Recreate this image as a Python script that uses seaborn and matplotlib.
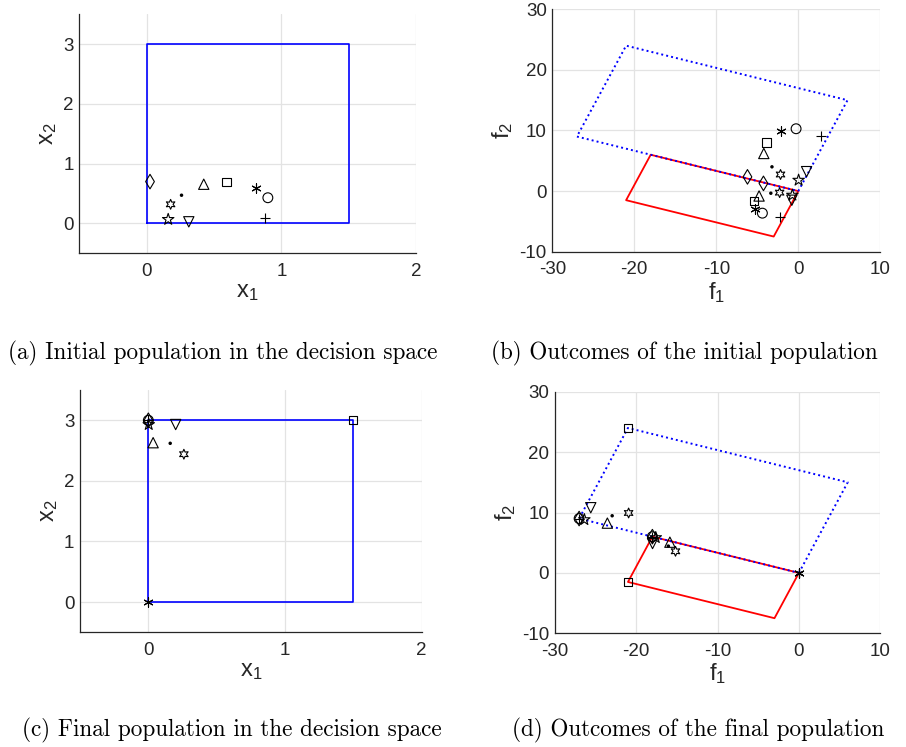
import matplotlib
matplotlib.use("Agg")
import matplotlib.pyplot as plt
from matplotlib.markers import MarkerStyle
import seaborn as sns
import pandas as pd

# ---------------- data ----------------
markers = ["d", (6, 1, 0), "*", ".", "v", "^", "s", (6, 2, 0), "o", "+"]

# initial population (decision space)
x1_init = [0.025, 0.178, 0.160, 0.259, 0.313, 0.424, 0.593, 0.815, 0.900, 0.880]
x2_init = [0.700, 0.320, 0.067, 0.472, 0.027, 0.656, 0.695, 0.600, 0.430, 0.083]
# outcomes of initial population, objective map A (blue) and B (red)
f1A_init = [-6.20, -2.168, 0.037, -3.212, 1.009, -4.208, -3.883, -2.14, -0.27, 2.773]
f2A_init = [2.35, 2.74, 1.801, 4.006, 3.211, 6.208, 8.015, 9.95, 10.29, 9.049]
f1B_init = [-4.25, -2.276, -0.722, -3.35, -0.788, -4.784, -5.356, -5.23, -4.38, -2.258]
f2B_init = [1.275, -0.25, -0.666, -0.351, -1.511, -0.808, -1.575, -2.875, -3.64, -4.234]

# final population (decision space)
x1_fin = [0.0, 0.26, 0.003, 0.16, 0.20, 0.035, 1.5, 0.0, 0.0, 0.0]
x2_fin = [3.0, 2.44, 2.93, 2.62, 2.93, 2.63, 3.0, 0.0, 3.0, 3.0]
f1A_fin = [-27.0, -20.92, -26.358, -22.94, -25.57, -23.53, -21.0, 0.0, -27.0, -27.0]
f2A_fin = [9.0, 9.92, 8.82, 9.46, 10.79, 8.24, 24.0, 0.0, 9.0, 9.0]
f1B_fin = [-18.0, -15.16, -17.586, -16.04, -17.98, -15.85, -21.0, 0.0, -18.0, -18.0]
f2B_fin = [6.0, 3.58, 5.845, 4.44, 4.86, 5.085, -1.5, 0.0, 6.0, 6.0]

# feasible box and its images
box_x1 = [0, 1.5, 1.5, 0, 0]
box_x2 = [0, 0, 3, 3, 0]
imgA_f1 = [0, 6, -21, -27, 0]
imgA_f2 = [0, 15, 24, 9, 0]
imgB_f1 = [0, -3, -21, -18, 0]
imgB_f2 = [0, -7.5, -1.5, 6, 0]

captions = ["(a) Initial population in the decision space",
            "(b) Outcomes of the initial population",
            "(c) Final population in the decision space",
            "(d) Outcomes of the final population"]

# ---------------- style ----------------
sns.set_theme(style="white")
plt.rcParams["font.family"] = ["Liberation Sans", "DejaVu Sans"]
plt.rcParams["mathtext.fontset"] = "custom"
plt.rcParams["mathtext.rm"] = "Liberation Sans"
plt.rcParams["mathtext.it"] = "Liberation Sans"
plt.rcParams["axes.unicode_minus"] = False

W, H = 906, 747
fig = plt.figure(figsize=(W / 100, H / 100), dpi=100)
fig.patch.set_facecolor("white")

def px_axes(l, t, r, b):
    return fig.add_axes([l / W, 1 - b / H, (r - l) / W, (b - t) / H])

INK = "#262626"

def style_axes(ax, xlim, ylim, xt, yt, xl, yl):
    ax.set_xlim(*xlim)
    ax.set_ylim(*ylim)
    ax.set_xticks(xt)
    ax.set_yticks(yt)
    ax.grid(True, color="#e3e3e3", linewidth=0.9)
    ax.set_axisbelow(True)
    for s in ["top", "right"]:
        ax.spines[s].set_visible(False)
    for s in ["left", "bottom"]:
        ax.spines[s].set_color(INK)
        ax.spines[s].set_linewidth(0.9)
    ax.tick_params(axis="both", direction="in", length=3, width=0.8,
                   colors=INK, labelsize=13.5, labelcolor=INK)
    ax.tick_params(axis="x", pad=7)
    ax.tick_params(axis="y", pad=4)
    ax.set_xlabel(xl, fontsize=17, color=INK, labelpad=1)
    ax.set_ylabel(yl, fontsize=17, color=INK, labelpad=3)

def draw_points(ax, xs, ys):
    for xv, yv, m in zip(xs, ys, markers):
        df = pd.DataFrame({"x": [xv], "y": [yv]})
        ms = MarkerStyle(m)
        if m == ".":
            sns.scatterplot(data=df, x="x", y="y", ax=ax, marker=".", s=25,
                            color="black", edgecolor="none", zorder=5)
        elif not ms.is_filled():
            sns.scatterplot(data=df, x="x", y="y", ax=ax, marker=m, s=45,
                            color="black", linewidth=0.8, zorder=5)
        else:
            s = 50
            if m == "d":
                s = 55
            if m == "*":
                s = 75
            if m == (6, 1, 0):
                s = 50
            if m == "s":
                s = 34
            if m in ("v", "^"):
                s = 55
            sns.scatterplot(data=df, x="x", y="y", ax=ax,
                            marker=MarkerStyle(m, fillstyle="none"), s=s,
                            color="black", linewidth=0.8, zorder=5)

def draw_box(ax):
    sns.lineplot(x=box_x1, y=box_x2, ax=ax, sort=False, estimator=None,
                 color="#0000ff", linewidth=1.2, zorder=3)

def draw_images(ax):
    sns.lineplot(x=imgB_f1, y=imgB_f2, ax=ax, sort=False, estimator=None,
                 color="#ff0000", linewidth=1.3, zorder=3)
    sns.lineplot(x=imgA_f1, y=imgA_f2, ax=ax, sort=False, estimator=None,
                 color="#0000ff", linewidth=1.4, linestyle=(0, (1, 1.6)), zorder=4)

xl_dec = r"$\mathregular{x_1}$"
yl_dec = r"$\mathregular{x_2}$"
xl_obj = r"$\mathregular{f_1}$"
yl_obj = r"$\mathregular{f_2}$"

# (a)
ax_a = px_axes(79.3, 14.3, 416, 253.3)
draw_box(ax_a)
draw_points(ax_a, x1_init, x2_init)
style_axes(ax_a, (-0.5, 2), (-0.5, 3.5), [0, 1, 2], [0, 1, 2, 3], xl_dec, yl_dec)

# (b)
ax_b = px_axes(552.3, 9.3, 880.3, 251.7)
draw_images(ax_b)
draw_points(ax_b, f1A_init, f2A_init)
draw_points(ax_b, f1B_init, f2B_init)
style_axes(ax_b, (-30, 10), (-10, 30), [-30, -20, -10, 0, 10], [-10, 0, 10, 20, 30], xl_obj, yl_obj)

# (c)
ax_c = px_axes(80, 390, 421.7, 632.3)
draw_box(ax_c)
draw_points(ax_c, x1_fin, x2_fin)
style_axes(ax_c, (-0.5, 2), (-0.5, 3.5), [0, 1, 2], [0, 1, 2, 3], xl_dec, yl_dec)

# (d)
ax_d = px_axes(554.7, 391.7, 880.3, 633.3)
draw_images(ax_d)
draw_points(ax_d, f1A_fin, f2A_fin)
draw_points(ax_d, f1B_fin, f2B_fin)
style_axes(ax_d, (-30, 10), (-10, 30), [-30, -20, -10, 0, 10], [-10, 0, 10, 20, 30], xl_obj, yl_obj)

for ax in [ax_a, ax_b, ax_c, ax_d]:
    for c in ax.collections:
        c.set_clip_on(False)

cap_pos = [(223, 353), (684, 353), (232, 730), (698, 730)]
for (cx, cy), txt in zip(cap_pos, captions):
    fig.text(cx / W, 1 - cy / H, txt, ha="center", va="center",
             fontsize=16.7, family="cmr10", color="black")

fig.savefig("out.png", dpi=100)
